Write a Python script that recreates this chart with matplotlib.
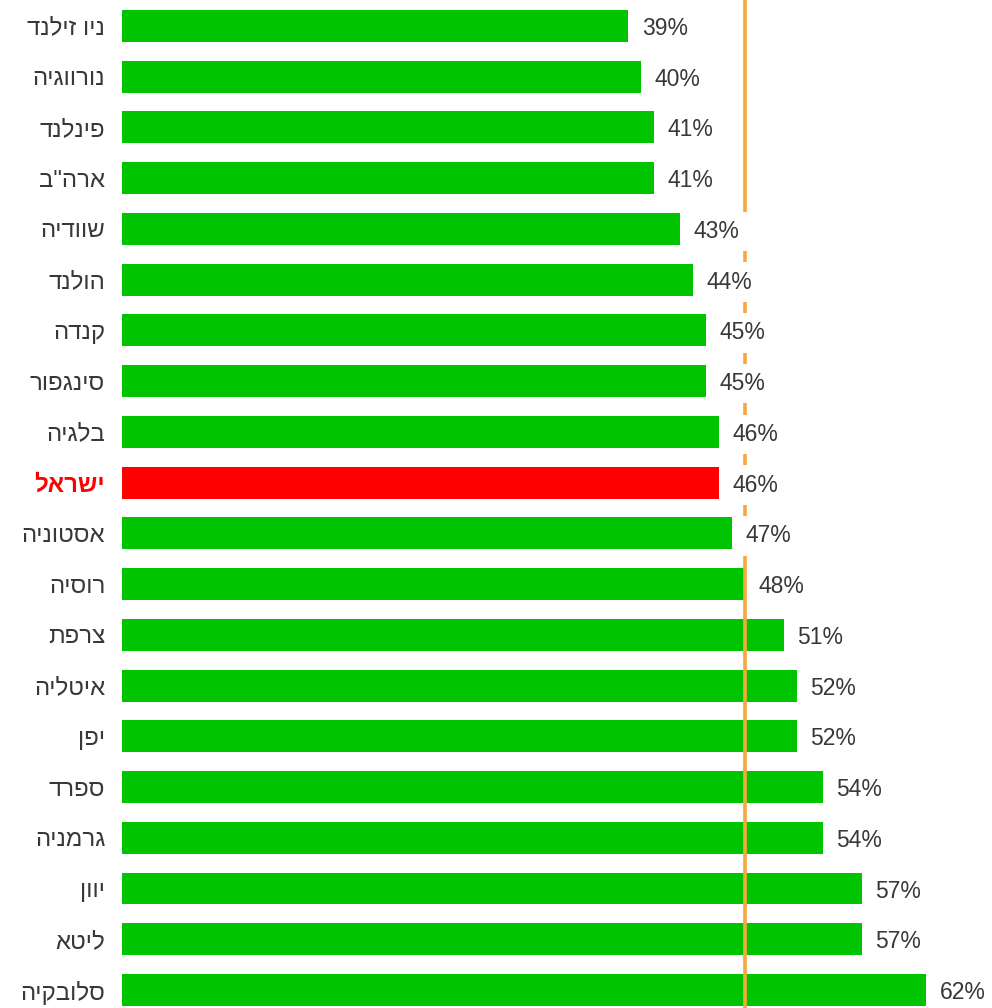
import matplotlib
matplotlib.use("Agg")
import matplotlib.pyplot as plt

countries = ["ניו זילנד", "נורווגיה", "פינלנד", "ארה\"ב", "שוודיה", "הולנד", "קנדה",
             "סינגפור", "בלגיה", "ישראל", "אסטוניה", "רוסיה", "צרפת", "איטליה",
             "יפן", "ספרד", "גרמניה", "יוון", "ליטא", "סלובקיה"]
values = [39, 40, 41, 41, 43, 44, 45, 45, 46, 46, 47, 48, 51, 52, 52, 54, 54, 57, 57, 62]
highlight = "ישראל"
reference_line = 48

plt.rcParams['font.family'] = ['Liberation Sans', 'DejaVu Sans']

W, H = 992, 1008
fig = plt.figure(figsize=(W / 100, H / 100), dpi=100)
left_px = 122
ax = fig.add_axes([left_px / W, 0, 1 - left_px / W, 1])

green = "#00c400"
red = "#ff0000"
orange = "#f5a93c"
txt = "#383838"

ys = list(range(len(countries)))
colors = [red if c == highlight else green for c in countries]
ax.barh(ys, values, height=0.63, color=colors, zorder=2)
ax.axvline(reference_line, color=orange, lw=2.6, zorder=3)

for y, v, c in zip(ys, values, countries):
    ax.text(v + 1.05, y + 0.05, f"{v}%", ha="left", va="center", fontsize=16.5, color=txt,
            zorder=4, bbox=dict(facecolor="white", edgecolor="none", pad=6))
    is_h = c == highlight
    ax.text(-1.3, y + 0.05, c[::-1], ha="right", va="center", fontsize=17.3,
            color=red if is_h else txt, fontweight="bold" if is_h else "normal",
            clip_on=False)

px_per = (628 - 122) / 39
ax.set_xlim(0, (W - left_px) / px_per)
ax.set_ylim(19.355, -0.51)
ax.axis("off")

fig.savefig("out.png", dpi=100, facecolor="white")
